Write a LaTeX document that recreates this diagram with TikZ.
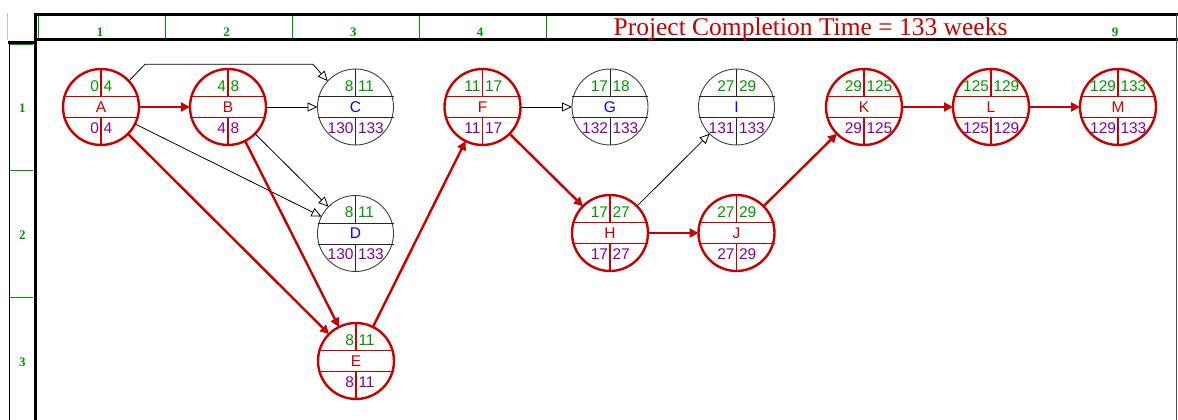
\documentclass[tikz,border=0pt]{standalone}
\usepackage{fontspec}
\setmainfont{Liberation Sans}
\newfontfamily\hdrfont{Liberation Serif}
\usetikzlibrary{arrows.meta}

\definecolor{crit}{RGB}{200,0,0}
\definecolor{esgreen}{RGB}{0,150,0}
\definecolor{lspurple}{RGB}{135,0,150}
\definecolor{gridgreen}{RGB}{0,150,0}
\colorlet{critletter}{crit}
\colorlet{freeletter}{blue}

% one activity: name, position, kind (crit/free), label, ES, EF, LS, LF
\newcommand\actnode[8]{%
  \node[#3node] (#1) at (#2) {};
  \draw[#3inner] ([shift={(-38,-10.5)}]#1.center) -- ([shift={(38,-10.5)}]#1.center);
  \draw[#3inner] ([shift={(-38,10.5)}]#1.center) -- ([shift={(38,10.5)}]#1.center);
  \draw[#3inner] (#1.north) -- ([shift={(0,-10.5)}]#1.center);
  \draw[#3inner] (#1.south) -- ([shift={(0,10.5)}]#1.center);
  \node[numtxt,text=esgreen,anchor=east] (#1es) at ([shift={(-2,-21)}]#1.center) {#5};
  \node[numtxt,text=esgreen,anchor=west] (#1ef) at ([shift={(2.5,-21)}]#1.center) {#6};
  \node[numtxt,text=#3letter] (#1lbl) at (#1.center) {#4};
  \node[numtxt,text=lspurple,anchor=east] (#1ls) at ([shift={(-2,21)}]#1.center) {#7};
  \node[numtxt,text=lspurple,anchor=west] (#1lf) at ([shift={(2.5,21)}]#1.center) {#8};
}

\begin{document}
\begin{tikzpicture}[x=1pt,y=-1pt,
  critnode/.style={circle,draw=crit,line width=2.4pt,minimum size=76pt,inner sep=0pt,outer sep=0pt},
  freenode/.style={circle,draw=black!75,line width=0.9pt,minimum size=76pt,inner sep=0pt,outer sep=0pt},
  critinner/.style={draw=crit,line width=1.1pt},
  freeinner/.style={draw=black!85,line width=0.9pt},
  numtxt/.style={inner sep=0pt,outer sep=0pt,font=\fontsize{15.5}{15.5}\selectfont},
  critedge/.style={draw=crit,line width=2.4pt,-{Triangle[length=9pt,width=9pt]}},
  freeedge/.style={draw=black,line width=0.8pt,-{Triangle[open,length=10pt,width=9pt]}},
  heavy/.style={draw=black,line width=3pt},
  gridline/.style={draw=gridgreen,line width=1pt},
  hdrnum/.style={text=gridgreen,inner sep=0pt,font=\hdrfont\bfseries\fontsize{13}{13}\selectfont}]

\useasboundingbox (0,0) rectangle (1178,420);
\fill[white] (0,0) rectangle (1178,420);

% ---- frame of the grid ----
\draw[black!25,line width=0.8pt] (7,13) -- (7,40);
\draw[gridline] (38,16) -- (38,39);
\draw[gridline] (165.7,16) -- (165.7,39);
\draw[gridline] (292.3,16) -- (292.3,39);
\draw[gridline] (419.3,16) -- (419.3,39);
\draw[gridline] (546,16) -- (546,39);
\draw[gridline] (10,44.5) -- (33,44.5);
\draw[gridline] (10,170) -- (33,170);
\draw[gridline] (10,297) -- (33,297);
\draw[heavy] (35,14.5) -- (1178,14.5);
\draw[heavy] (35,40) -- (1178,40);
\draw[heavy] (35,13) -- (35,420);
\draw[heavy] (8,42.5) -- (35,42.5);
\draw[black,line width=1pt] (9,42) -- (9,420);
\draw[black!70,line width=1pt] (1176,14) -- (1176,420);

% ---- column and row labels ----
\node[hdrnum,anchor=base] (c1) at (100,36.5) {1};
\node[hdrnum,anchor=base] (c2) at (226.7,36.5) {2};
\node[hdrnum,anchor=base] (c3) at (353.3,36.5) {3};
\node[hdrnum,anchor=base] (c4) at (480,36.5) {4};
\node[hdrnum,anchor=base] (c9) at (1115,36.5) {9};
\node[hdrnum] (r1) at (22.5,108) {1};
\node[hdrnum] (r2) at (22.5,235) {2};
\node[hdrnum] (r3) at (22.5,362) {3};
\node[text=crit,inner sep=0pt,anchor=base,font=\hdrfont\fontsize{25.5}{25.5}\selectfont]
  (title) at (810.5,35.5) {Project Completion Time = 133 weeks};

% ---- activities ----
\actnode{A}{101,107}{crit}{A}{0}{4}{0}{4}
\actnode{B}{228,107}{crit}{B}{4}{8}{4}{8}
\actnode{C}{355.5,107}{free}{C}{8}{11}{130}{133}
\actnode{D}{355.5,233.5}{free}{D}{8}{11}{130}{133}
\actnode{E}{356,361}{crit}{E}{8}{11}{8}{11}
\actnode{F}{482.5,107}{crit}{F}{11}{17}{11}{17}
\actnode{G}{610,107}{free}{G}{17}{18}{132}{133}
\actnode{H}{610,233}{crit}{H}{17}{27}{17}{27}
\actnode{I}{736.5,107}{free}{I}{27}{29}{131}{133}
\actnode{J}{736.5,233}{crit}{J}{27}{29}{27}{29}
\actnode{K}{864,107}{crit}{K}{29}{125}{29}{125}
\actnode{L}{991,107}{crit}{L}{125}{129}{125}{129}
\actnode{M}{1118,107}{crit}{M}{129}{133}{129}{133}

% ---- precedence links ----
\coordinate (ac1) at (145,64.3);
\coordinate (ac2) at (313,64.3);
\draw[critedge] (A) -- (B);
\draw[freeedge] (A.43) -- (ac1) -- (ac2) -- (C.137);
\draw[freeedge] (B) -- (C);
\draw[freeedge] (A) -- (D);
\draw[freeedge] (B) -- (D);
\draw[critedge] (A) -- (E);
\draw[critedge] (B) -- (E);
\draw[critedge] (E) -- (F);
\draw[freeedge] (F) -- (G);
\draw[critedge] (F) -- (H);
\draw[freeedge] (H) -- (I);
\draw[critedge] (H) -- (J);
\draw[critedge] (J) -- (K);
\draw[critedge] (K) -- (L);
\draw[critedge] (L) -- (M);
\end{tikzpicture}
\end{document}
